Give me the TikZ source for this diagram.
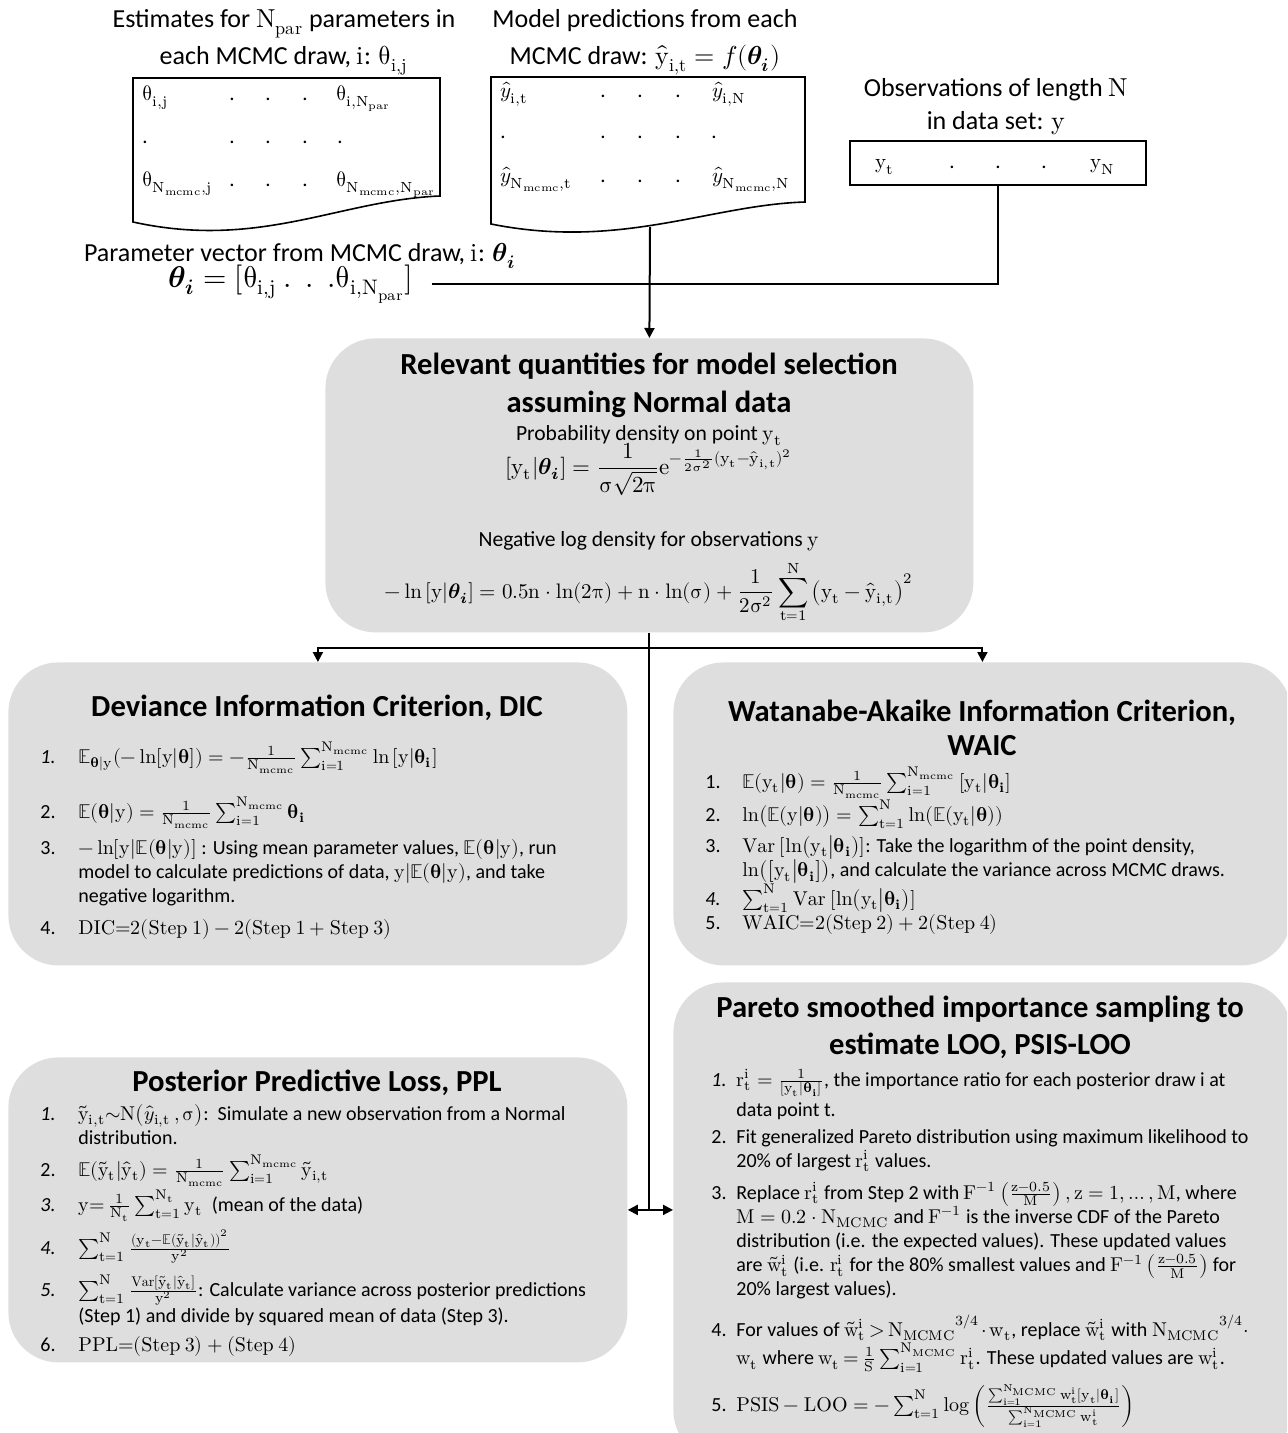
\documentclass[tikz,border=0pt]{standalone}
\usepackage{amsmath}
\usepackage[math-style=upright]{unicode-math}
\setmainfont{Carlito}
\setmathfont{Latin Modern Math}
\setmathrm{lmroman10-regular.otf}[BoldFont=lmroman10-bold.otf, ItalicFont=lmroman10-italic.otf]
\usetikzlibrary{arrows.meta}
\definecolor{boxgray}{RGB}{222,222,222}
% bold theta shortcuts
\newcommand{\bth}{\symbfit{\theta}_{\symbfit{i}}}
\newcommand{\bt}{\symbf{\theta}}
\newcommand{\bti}{\symbf{\theta}_{\symbf{i}}}
% numbered step with hanging lines
\newcommand{\stepline}[3][19pt]{\begin{tabular}[t]{@{}p{#1}@{}l@{}}#2 & #3\end{tabular}}
\tikzset{
  qbox/.style={fill=boxgray, rounded corners=25pt, anchor=north west, inner sep=0pt},
  head/.style={font=\fontsize{15.3}{19}\selectfont\bfseries, align=center, anchor=base, inner sep=0pt},
  toplabel/.style={font=\fontsize{13}{18.5}\selectfont, align=center, anchor=base, inner sep=0pt},
  subtext/.style={font=\fontsize{10.8}{13}\selectfont, anchor=base, inner sep=0pt},
  formula/.style={font=\fontsize{10.5}{14}\selectfont, anchor=base, inner sep=0pt},
  steptext/.style={anchor=base west, inner sep=0pt, font=\fontsize{10}{12}\selectfont},
  entry/.style={anchor=base west, inner sep=0pt, font=\fontsize{10.5}{13}\selectfont},
  entrydot/.style={entry, anchor=base},
  docline/.style={draw, line width=0.8pt, fill=white},
  link/.style={line width=1pt},
  arr/.style={link, -{Triangle[length=5pt,width=5pt]}},
}
\begin{document}
\begin{tikzpicture}[x=0.5pt, y=-0.5pt]
\useasboundingbox (0,0) rectangle (1287,1433);
\clip (0,0) rectangle (1287,1433);

% input documents
\draw[docline] (133,78) -- (440,78) -- (440,196) .. controls (340,200) and (260,250) .. (133,222) -- cycle;
\draw[docline] (491,77) -- (805,77) -- (805,202) .. controls (710,205) and (620,250) .. (491,224) -- cycle;
\coordinate (predbot) at (650,227);
\node[draw, line width=0.8pt, anchor=north west, minimum width=148pt, minimum height=22pt, inner sep=0pt] (obsbox) at (849,140) {};

% labels (anchored on their last line)
\node[toplabel] (estlbl) at (284,65) {Estimates for $N_{par}$ parameters in\\each MCMC draw, $i$: $\theta_{i,j}$};
\node[toplabel] (predlbl) at (645,65) {Model predictions from each\\MCMC draw: $\hat{y}_{i,t} = \symit{f}(\bth)$};
\node[toplabel, font=\fontsize{13}{16.5}\selectfont] (obslbl) at (996,130) {Observations of length $N$\\in data set: $y$};

% parameter table
\node[entry] (thA) at (142,101) {$\theta_{i,j}$};
\node[entry] (thB) at (336,101) {$\theta_{i,N_{par}}$};
\node[entry] (thC) at (142,187) {$\theta_{N_{mcmc},j}$};
\node[entry] (thD) at (336,187) {$\theta_{N_{mcmc},N_{par}}$};
\foreach \x in {232,268,305} {
  \node[entrydot] (pdA\x) at (\x,101) {.};
  \node[entrydot] (pdC\x) at (\x,187) {.};
}
\foreach \x in {145,232,268,305,340}
  \node[entrydot] (pdB\x) at (\x,144) {.};

% prediction table
\node[entry] (yhA) at (500,98) {$\hat{\symit{y}}_{i,t}$};
\node[entry] (yhB) at (712,98) {$\hat{\symit{y}}_{i,N}$};
\node[entry] (yhC) at (500,183) {$\hat{\symit{y}}_{N_{mcmc},t}$};
\node[entry] (yhD) at (712,183) {$\hat{\symit{y}}_{N_{mcmc},N}$};
\foreach \x in {603,640,678} {
  \node[entrydot] (ydA\x) at (\x,98) {.};
  \node[entrydot] (ydC\x) at (\x,183) {.};
}
\foreach \x in {503,603,640,678,714}
  \node[entrydot] (ydB\x) at (\x,139) {.};

% observations
\node[entrydot] (obsA) at (885,169) {$y_t$};
\node[entrydot] (obsB) at (1103,169) {$y_N$};
\foreach \x in {952,998,1044}
  \node[entrydot] (odot\x) at (\x,169) {.};

% parameter vector
\node[toplabel] (veclbl) at (300,262) {Parameter vector from MCMC draw, $i$: $\bth$};
\node[anchor=west, inner sep=0pt, font=\fontsize{15}{18}\selectfont] (vec) at (168,284) {$\bth = [\theta_{i,j}\ .\ \ .\ \ .\theta_{i,N_{par}}]$};

% central box
\node[qbox, minimum width=324pt, minimum height=147pt] (quant) at (325,338) {};
\node[head] (qtitle) at (649,412) {Relevant quantities for model selection\\assuming Normal data};
\node[subtext] (probtxt) at (649,440) {Probability density on point $y_t$};
\node[formula, font=\fontsize{11.5}{14}\selectfont] (probeq) at (649,474) {$\left[y_t\middle|\bth\right] = \dfrac{1}{\sigma\sqrt{2\pi}}e^{-\frac{1}{2\sigma^2}(y_t-\hat{y}_{i,t})^2}$};
\node[subtext] (negtxt) at (649,546) {Negative log density for observations $y$};
\node[formula] (negeq) at (649,598) {$-\ln\left[y\middle|\bth\right] = 0.5n\cdot\ln(2\pi)+n\cdot\ln(\sigma)+\dfrac{1}{2\sigma^2}\displaystyle\sum_{t=1}^{N}\left(y_t-\hat{y}_{i,t}\right)^2$};

% criteria boxes
\node[qbox, minimum width=309.5pt, minimum height=151.5pt] (dic) at (8,662) {};
\node[qbox, minimum width=309pt, minimum height=151.5pt] (waic) at (673,662) {};
\node[qbox, minimum width=309.5pt, minimum height=152.5pt] (ppl) at (8,1057) {};
\node[qbox, minimum width=309pt, minimum height=239pt] (psis) at (673,982) {};

% DIC
\node[head] (dictitle) at (317,716) {Deviance Information Criterion, DIC};
\node[steptext] (dicA) at (40,763) {\stepline{\textit{1.}}{$\mathbb{E}_{\bt|y}(-\ln[y|\bt]) = -\frac{1}{N_{mcmc}}\sum_{i=1}^{N_{mcmc}}\ln\left[y\middle|\bti\right]$}};
\node[steptext] (dicB) at (40,818) {\stepline{2.}{$\mathbb{E}(\bt|y) = \frac{1}{N_{mcmc}}\sum_{i=1}^{N_{mcmc}}\bti$}};
\node[steptext] (dicC) at (40,854) {\stepline{3.}{$-\ln[y|\mathbb{E}(\bt|y)]$ : Using mean parameter values, $\mathbb{E}(\bt|y)$, run\\ & model to calculate predictions of data, $y|\mathbb{E}(\bt|y)$, and take\\ & negative logarithm.}};
\node[steptext] (dicD) at (40,934) {\stepline{4.}{$\mathrm{DIC}{=}2(\mathrm{Step\ 1}) - 2(\mathrm{Step\ 1} + \mathrm{Step\ 3})$}};

% WAIC
\node[head, font=\fontsize{15.3}{17}\selectfont\bfseries] (waictitle) at (982,755) {Watanabe-Akaike Information Criterion,\\WAIC};
\node[steptext] (waicA) at (705,788) {\stepline[18.5pt]{1.}{$\mathbb{E}(y_t|\bt) = \frac{1}{N_{mcmc}}\sum_{i=1}^{N_{mcmc}}\left[y_t\middle|\bti\right]$}};
\node[steptext] (waicB) at (705,821) {\stepline[18.5pt]{2.}{$\ln\bigl(\mathbb{E}(y|\bt)\bigr) = \sum_{t=1}^{N}\ln(\mathbb{E}(y_t|\bt))$}};
\node[steptext] (waicC) at (705,852) {\stepline[18.5pt]{3.}{$\mathrm{Var}\ [\ln\bigl(y_t\big|\bti\bigr)]$: Take the logarithm of the point density,\\ & $\ln\bigl(\bigl[y_t\big|\bti\bigr]\bigr)$, and calculate the variance across MCMC draws.}};
\node[steptext] (waicD) at (705,905) {\stepline[18.5pt]{\textit{4.}}{$\sum_{t=1}^{N}\mathrm{Var}\ [\ln\bigl(y_t\big|\bti\bigr)]$}};
\node[steptext] (waicE) at (705,929) {\stepline[18.5pt]{5.}{$\mathrm{WAIC}{=}2(\mathrm{Step\ 2}) + 2(\mathrm{Step\ 4})$}};

% PPL
\node[head] (ppltitle) at (317,1091) {Posterior Predictive Loss, PPL};
\node[steptext] (pplA) at (40,1120) {\stepline{\textit{1.}}{$\tilde{y}_{i,t}{\sim}N\bigl(\hat{\symit{y}}_{i,t}\,,\sigma\bigr)$:\ \ Simulate a new observation from a Normal\\ & distribution.}};
\node[steptext] (pplB) at (40,1176) {\stepline{2.}{$\mathbb{E}(\tilde{y}_t|\hat{y}_t) = \frac{1}{N_{mcmc}}\sum_{i=1}^{N_{mcmc}}\tilde{y}_{i,t}$}};
\node[steptext] (pplC) at (40,1211) {\stepline{\textit{3.}}{$y{=}\,\frac{1}{N_t}\sum_{t=1}^{N_t}y_t$\ \ (mean of the data)}};
\node[steptext] (pplD) at (40,1254) {\stepline{\textit{4.}}{$\sum_{t=1}^{N}\frac{\left(y_t-\mathbb{E}(\tilde{y}_t|\hat{y}_t)\right)^2}{y^2}$}};
\node[steptext] (pplE) at (40,1296) {\stepline{\textit{5.}}{$\sum_{t=1}^{N}\frac{\mathrm{Var}[\tilde{y}_t|\hat{y}_t]}{y^2}$: Calculate variance across posterior predictions\\ & (Step 1) and divide by squared mean of data (Step 3).}};
\node[steptext] (pplF) at (40,1351) {\stepline{6.}{$\mathrm{PPL}{=}(\mathrm{Step\ 3}) + (\mathrm{Step\ 4})$}};

% PSIS-LOO
\node[head, font=\fontsize{15.3}{18.5}\selectfont\bfseries] (psistitle) at (980,1054) {Pareto smoothed importance sampling to\\estimate LOO, PSIS-LOO};
\node[steptext] (psisA) at (711,1086) {\stepline[12.5pt]{\textit{1.}}{$r_t^i = \frac{1}{[y_t|\bti]}$, the importance ratio for each posterior draw i at\\[3pt] & data point t.}};
\node[steptext] (psisB) at (711,1143) {\stepline[12.5pt]{2.}{Fit generalized Pareto distribution using maximum likelihood to\\ & 20\% of largest $r_t^i$ values.}};
\node[steptext] (psisC) at (711,1199) {\stepline[12.5pt]{3.}{Replace $r_t^i$ from Step 2 with $F^{-1}\left(\frac{z-0.5}{M}\right), z = 1, \dots, M$, where\\ & $M = 0.2\cdot N_{MCMC}$ and $F^{-1}$ is the inverse CDF of the Pareto\\ & distribution (i.e. the expected values). These updated values\\ & are $\tilde{w}_t^i$ (i.e. $r_t^i$ for the 80\% smallest values and $F^{-1}\left(\frac{z-0.5}{M}\right)$ for\\ & 20\% largest values).}};
\node[steptext] (psisD) at (711,1336) {\medmuskip=2mu\thickmuskip=3mu\stepline[12.5pt]{4.}{For values of $\tilde{w}_t^i > {N_{MCMC}}^{3/4}\cdot w_t$, replace $\tilde{w}_t^i$ with ${N_{MCMC}}^{3/4}\cdot$\\ & $w_t$ where $w_t = \frac{1}{S}\sum_{i=1}^{N_{MCMC}} r_t^i$. These updated values are $w_t^i$.}};
\node[steptext] (psisE) at (711,1411) {\stepline[12.5pt]{5.}{$\mathrm{PSIS} - \mathrm{LOO} = -\sum_{t=1}^{N}\log\left(\frac{\sum_{i=1}^{N_{MCMC}} w_t^i[y_t|\bti]}{\sum_{i=1}^{N_{MCMC}} w_t^i}\right)$}};

% connectors
\draw[link, shorten <=9pt] (vec.east) -| (obsbox.south);
\draw[arr] (predbot) -- (quant.north);
\coordinate (split) at (650,648);
\coordinate (hub) at (quant.south |- ppl.east);
\draw[link] (quant.south) -- (hub);
\draw[arr] (split) -| (dic.north);
\draw[arr] (split) -| (waic.north);
\draw[arr] (hub) -- (ppl.east);
\draw[arr] (hub) -- (psis.west |- hub);
\end{tikzpicture}
\end{document}
